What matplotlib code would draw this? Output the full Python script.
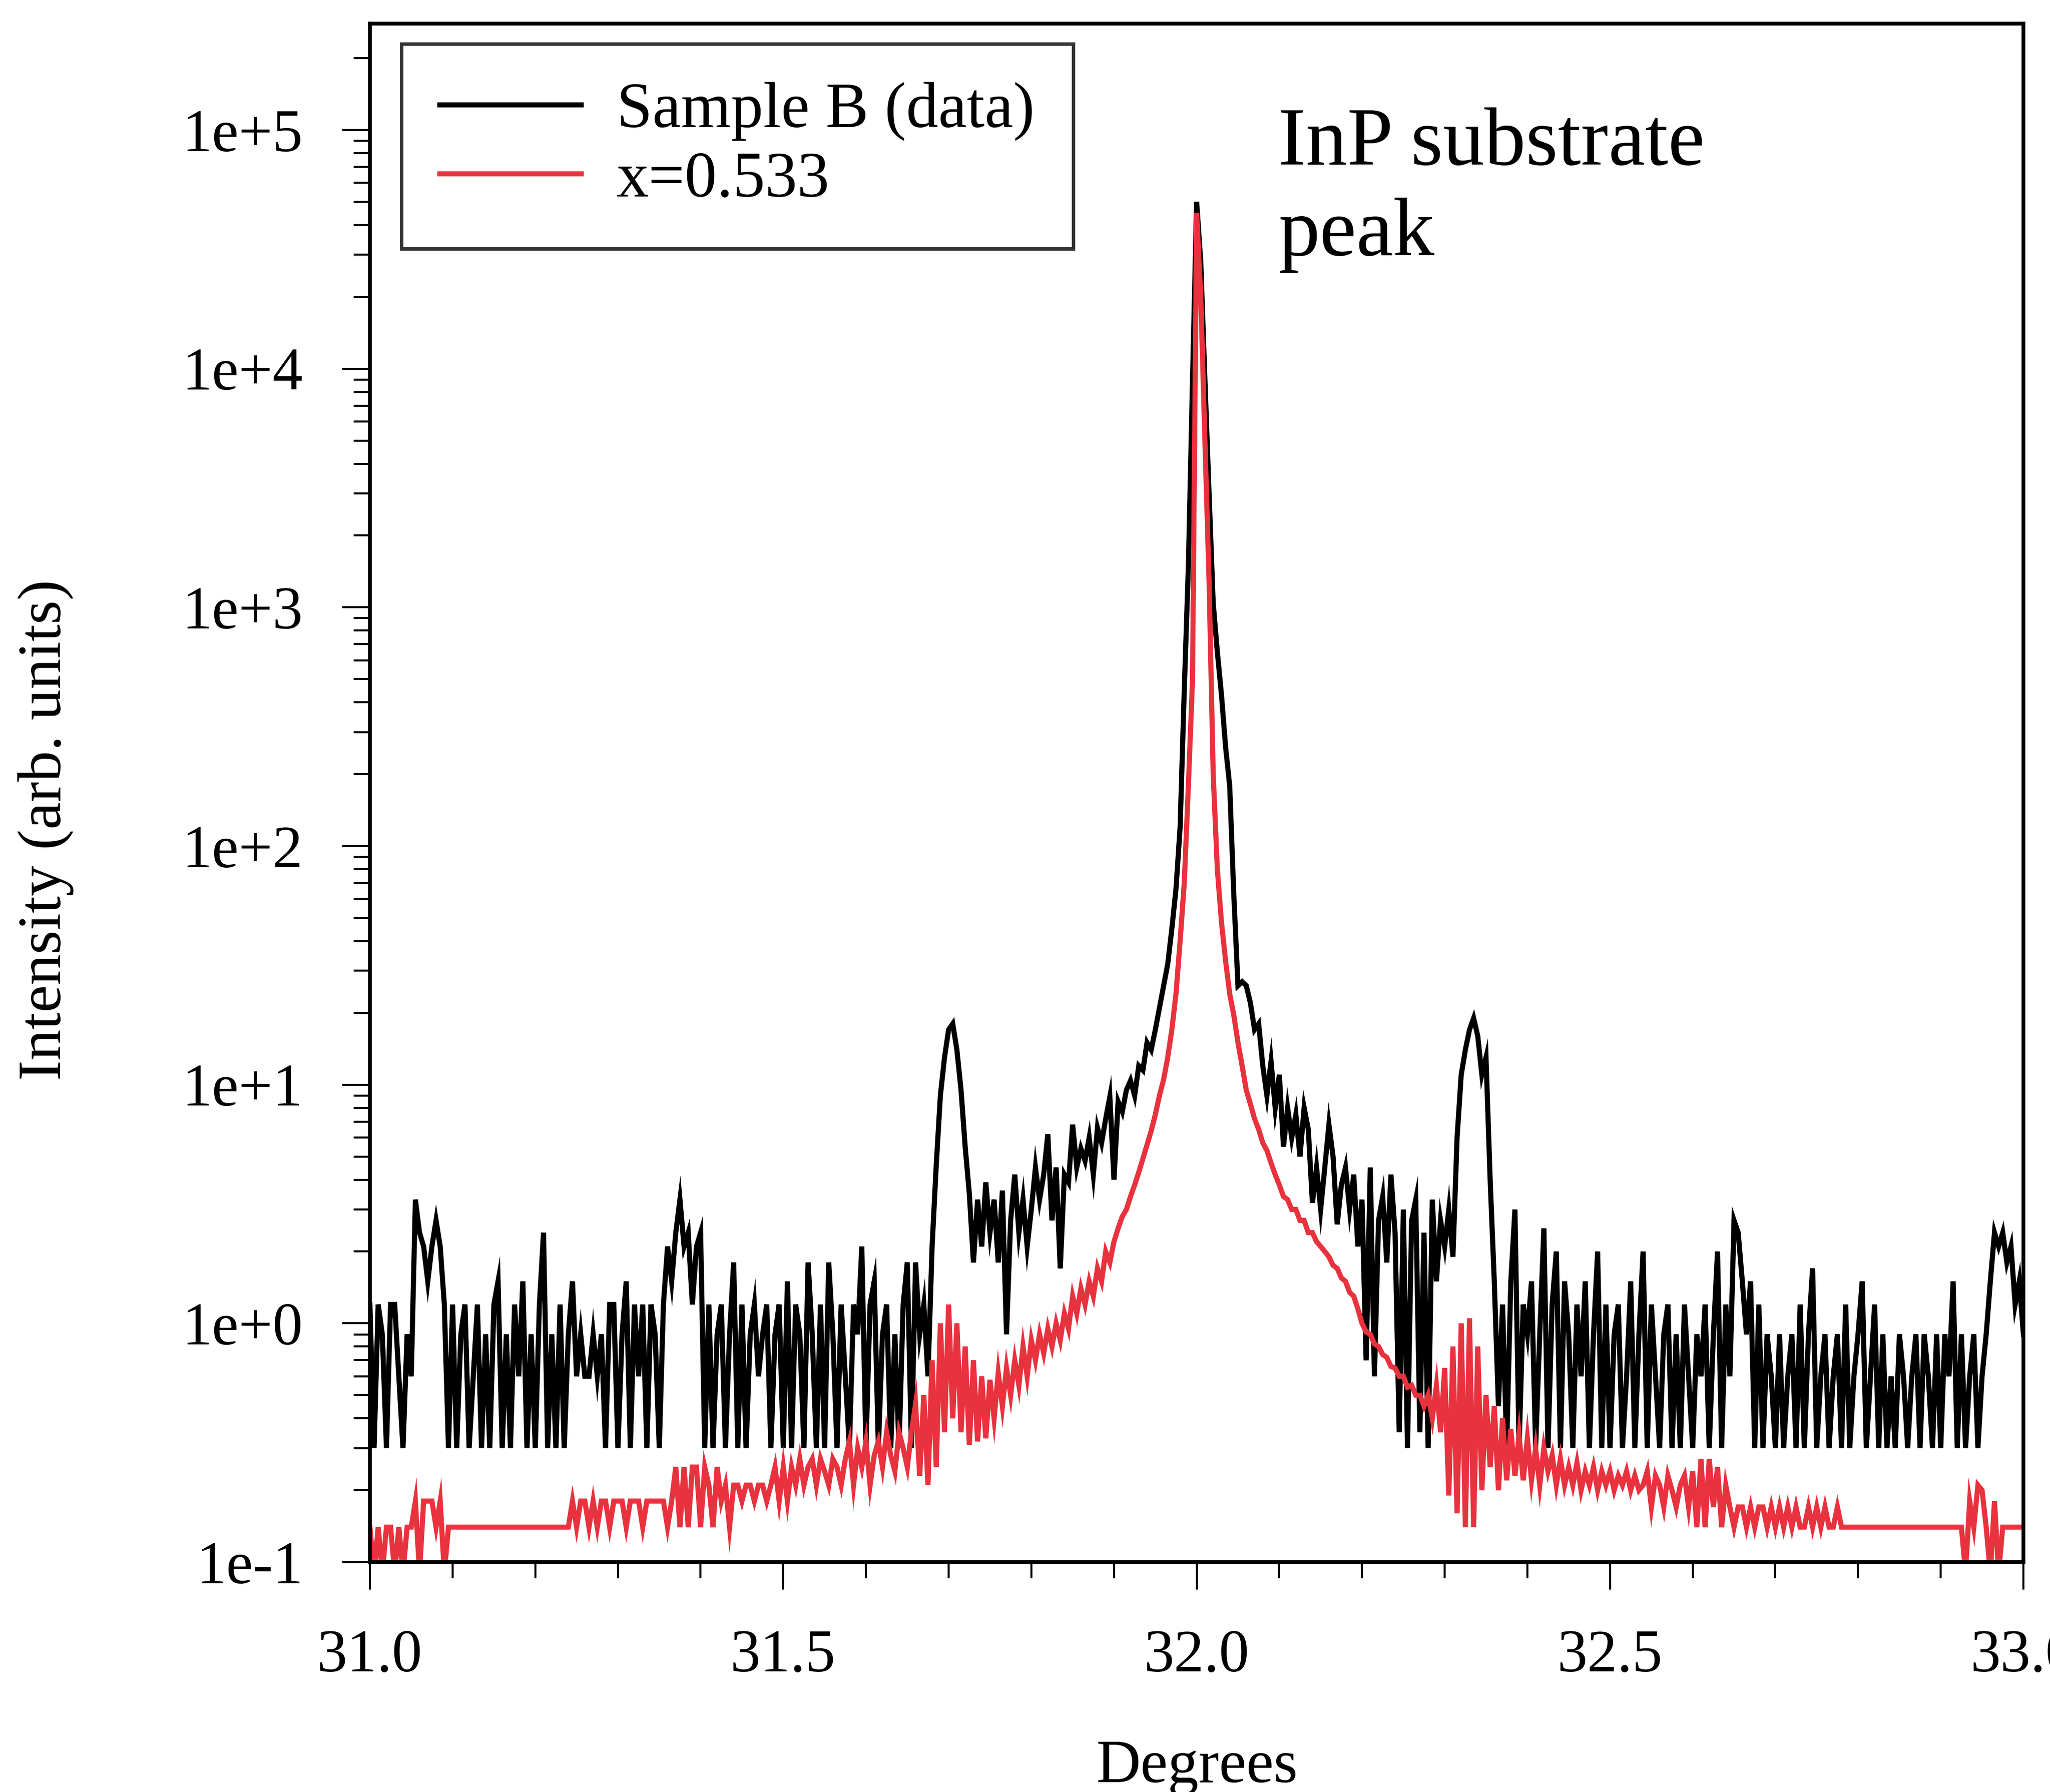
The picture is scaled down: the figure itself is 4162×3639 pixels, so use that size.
#!/usr/bin/env python3
"""
XRD rocking curve around the InP (004) substrate peak: measured Sample B vs. x=0.533 simulation.
Values were read off the scanned figure on a 0.005 deg grid.
"""

import numpy as np
import matplotlib

matplotlib.use("Agg")
import matplotlib.pyplot as plt
from matplotlib.ticker import FixedLocator, FuncFormatter, LogLocator, MultipleLocator, NullFormatter

plt.rcParams["font.family"] = ["Liberation Serif", "DejaVu Serif"]

# scan grid (degrees)
scan_start = 31.0
scan_step = 0.005

# Sample B (data), one row per 0.1 deg
sample_b = [
    1.2, 0.3, 1.2, 0.9, 0.3, 1.2, 1.2, 0.6, 0.3, 0.9, 0.6, 3.3, 2.4, 2.1, 1.5, 2.1, 2.7, 2.1, 1.2, 0.3,  # 31.0
    1.2, 0.3, 0.9, 1.2, 0.3, 0.6, 1.2, 0.3, 0.9, 0.3, 1.2, 1.5, 0.3, 0.9, 0.3, 1.2, 0.6, 1.5, 0.3, 0.9,  # 31.1
    0.3, 1.2, 2.4, 0.3, 0.9, 0.3, 1.2, 0.3, 0.9, 1.5, 0.6, 0.9, 0.6, 0.6, 0.9, 0.6, 0.9, 0.3, 1.2, 1.2,  # 31.2
    0.3, 0.9, 1.5, 0.3, 1.2, 0.6, 1.2, 0.3, 1.2, 0.9, 0.3, 1.2, 2.1, 1.5, 2.4, 3.3, 2.1, 2.4, 1.2, 2.1,  # 31.3
    2.4, 0.3, 1.2, 0.3, 0.9, 1.2, 0.3, 0.9, 1.8, 0.3, 1.2, 0.3, 0.9, 1.2, 0.6, 0.9, 1.2, 0.3, 0.9, 1.2,  # 31.4
    0.3, 1.5, 0.3, 1.2, 0.9, 0.3, 1.8, 0.9, 0.3, 1.2, 0.3, 1.8, 0.9, 0.3, 1.2, 0.6, 0.3, 1.2, 0.9, 2.1,  # 31.5
    0.3, 1.2, 1.5, 0.3, 0.9, 1.2, 0.3, 0.9, 0.3, 1.2, 1.8, 0.3, 1.8, 0.9, 1.2, 0.6, 2.1, 4.6, 9.0, 13.0,  # 31.6
    17.0, 18.0, 14.0, 9.5, 5.5, 3.5, 1.8, 3.3, 2.1, 3.9, 2.4, 3.3, 1.8, 3.6, 0.9, 2.7, 4.2, 2.4, 3.3, 2.1,  # 31.7
    3.0, 4.5, 3.3, 4.2, 6.2, 2.7, 4.5, 1.7, 4.2, 3.9, 6.8, 4.5, 5.4, 4.8, 6.0, 4.2, 6.6, 5.7, 7.2, 8.9,  # 31.8
    4.0, 8.5, 7.7, 9.5, 10.4, 9.0, 12.0, 11.5, 15.0, 14.0, 17.0, 21.0, 26.0, 32.0, 45.0, 66.0, 120.0,
    450.0, 1500.0, 9000.0,  # 31.9
    50000, 28000, 9000, 3000, 1040, 650, 430, 260, 178, 62, 26, 27, 26, 22, 17, 18, 12, 9, 12.5, 8,  # 32.0
    11.0, 5.5, 8.0, 6.0, 7.5, 5.0, 8.0, 6.5, 3.2, 4.5, 3.0, 4.5, 6.8, 5.0, 2.6, 3.8, 4.5, 3.0, 4.2, 2.1,  # 32.1
    3.3, 0.7, 4.5, 0.6, 2.7, 3.4, 1.8, 4.2, 2.4, 0.35, 3.0, 0.3, 2.7, 3.3, 0.35, 2.4, 0.3, 3.3, 1.5, 2.7,  # 32.2
    2.1, 3.0, 1.9, 6.0, 11.0, 14.0, 17.0, 19.0, 16.0, 11.0, 13.0, 4.0, 1.5, 0.45, 1.2, 0.3, 1.5, 3.0, 0.3, 1.2,  # 32.3
    0.9, 1.5, 0.3, 0.9, 2.5, 0.3, 1.2, 2.0, 0.3, 1.5, 0.9, 0.3, 1.2, 0.6, 1.5, 0.3, 0.9, 2.0, 0.3, 1.2,  # 32.4
    0.3, 0.9, 1.2, 0.3, 0.6, 1.5, 0.3, 0.9, 2.0, 0.3, 1.2, 0.6, 0.3, 0.9, 1.2, 0.3, 0.9, 0.3, 1.2, 0.6,  # 32.5
    0.3, 0.9, 0.6, 1.2, 0.3, 0.9, 2.0, 0.3, 1.2, 0.6, 2.7, 2.4, 1.5, 0.9, 1.5, 0.3, 1.2, 0.3, 0.9, 0.6,  # 32.6
    0.3, 0.9, 0.3, 0.6, 0.9, 0.3, 1.2, 0.3, 0.9, 1.7, 0.3, 0.6, 0.9, 0.3, 0.6, 0.9, 0.3, 1.2, 0.3, 0.6,  # 32.7
    0.9, 1.5, 0.3, 0.6, 1.2, 0.3, 0.9, 0.3, 0.6, 0.3, 0.9, 0.6, 0.3, 0.6, 0.9, 0.3, 0.9, 0.6, 0.3, 0.9,  # 32.8
    0.3, 0.9, 0.6, 1.5, 0.3, 0.9, 0.3, 0.6, 0.9, 0.3, 0.6, 0.9, 1.5, 2.4, 2.1, 2.4, 1.8, 2.1, 1.2, 1.5,  # 32.9
    0.9,  # 33.0
]

# simulation x=0.533, same grid
sim_x0533 = [
    0.14, 0.09, 0.14, 0.09, 0.14, 0.14, 0.09, 0.14, 0.09, 0.14, 0.14, 0.18, 0.09, 0.18, 0.18, 0.18, 0.14, 0.18, 0.09, 0.14,  # 31.0
    0.14, 0.14, 0.14, 0.14, 0.14, 0.14, 0.14, 0.14, 0.14, 0.14, 0.14, 0.14, 0.14, 0.14, 0.14, 0.14, 0.14, 0.14, 0.14, 0.14,  # 31.1
    0.14, 0.14, 0.14, 0.14, 0.14, 0.14, 0.14, 0.14, 0.14, 0.18, 0.14, 0.18, 0.18, 0.14, 0.18, 0.14, 0.18, 0.18, 0.14, 0.18,  # 31.2
    0.18, 0.18, 0.14, 0.18, 0.18, 0.18, 0.14, 0.18, 0.18, 0.18, 0.18, 0.18, 0.14, 0.18, 0.25, 0.14, 0.25, 0.14, 0.25, 0.25,  # 31.3
    0.14, 0.25, 0.21, 0.14, 0.25, 0.18, 0.21, 0.14, 0.21, 0.21, 0.18, 0.21, 0.21, 0.18, 0.21, 0.21, 0.18, 0.21, 0.25, 0.18,  # 31.4
    0.25, 0.18, 0.25, 0.21, 0.27, 0.21, 0.25, 0.27, 0.21, 0.27, 0.24, 0.21, 0.27, 0.25, 0.21, 0.27, 0.32, 0.21, 0.3, 0.25,  # 31.5
    0.32, 0.21, 0.28, 0.32, 0.25, 0.35, 0.28, 0.24, 0.35, 0.3, 0.25, 0.35, 0.46, 0.23, 0.5, 0.21, 0.7, 0.25, 1.0, 0.35,  # 31.6
    1.2, 0.4, 1.0, 0.35, 0.8, 0.31, 0.7, 0.32, 0.6, 0.33, 0.58, 0.4, 0.62, 0.45, 0.65, 0.5, 0.7, 0.55, 0.8, 0.6,  # 31.7
    0.85, 0.7, 0.9, 0.75, 0.95, 0.8, 1.0, 0.85, 1.1, 0.95, 1.3, 1.1, 1.4, 1.2, 1.5, 1.3, 1.7, 1.5, 2.0, 1.8,  # 31.8
    2.2, 2.5, 2.8, 3.0, 3.4, 3.8, 4.3, 4.9, 5.6, 6.4, 7.5, 9.0, 10.5, 13.0, 17.0, 24.0, 40.0, 70.0, 180.0, 500.0,  # 31.9
    45000, 20000, 5000, 1300, 200, 80, 48, 33, 24, 19.5, 15, 12, 9.5, 8.3, 7.2, 6.5, 5.7, 5.3, 4.7, 4.2,  # 32.0
    3.8, 3.4, 3.3, 3.0, 3.0, 2.7, 2.7, 2.4, 2.4, 2.2, 2.1, 2.0, 1.9, 1.75, 1.7, 1.55, 1.5, 1.35, 1.3, 1.15,  # 32.1
    1.0, 0.92, 0.9, 0.82, 0.8, 0.74, 0.72, 0.66, 0.65, 0.6, 0.6, 0.54, 0.55, 0.5, 0.5, 0.45, 0.5, 0.4, 0.55, 0.35,  # 32.2
    0.65, 0.19, 0.8, 0.16, 1.0, 0.14, 1.05, 0.14, 0.8, 0.2, 0.5, 0.25, 0.45, 0.2, 0.4, 0.22, 0.36, 0.23, 0.34, 0.22,  # 32.3
    0.33, 0.22, 0.3, 0.21, 0.3, 0.24, 0.28, 0.21, 0.27, 0.21, 0.25, 0.21, 0.26, 0.2, 0.24, 0.21, 0.25, 0.2, 0.24, 0.21,  # 32.4
    0.24, 0.2, 0.23, 0.21, 0.24, 0.2, 0.23, 0.2, 0.21, 0.24, 0.17, 0.23, 0.21, 0.17, 0.23, 0.2, 0.17, 0.21, 0.23, 0.17,  # 32.5
    0.24, 0.14, 0.27, 0.14, 0.27, 0.17, 0.25, 0.14, 0.21, 0.17, 0.14, 0.17, 0.17, 0.14, 0.17, 0.14, 0.17, 0.17, 0.14, 0.17,  # 32.6
    0.14, 0.17, 0.14, 0.17, 0.14, 0.17, 0.14, 0.14, 0.17, 0.14, 0.17, 0.14, 0.17, 0.14, 0.14, 0.17, 0.14, 0.14, 0.14, 0.14,  # 32.7
    0.14, 0.14, 0.14, 0.14, 0.14, 0.14, 0.14, 0.14, 0.14, 0.14, 0.14, 0.14, 0.14, 0.14, 0.14, 0.14, 0.14, 0.14, 0.14, 0.14,  # 32.8
    0.14, 0.14, 0.14, 0.14, 0.14, 0.14, 0.09, 0.18, 0.14, 0.21, 0.2, 0.14, 0.09, 0.18, 0.09, 0.14, 0.14, 0.14, 0.14, 0.14,  # 32.9
    0.14,  # 33.0
]

x_ticks = [31.0, 31.5, 32.0, 32.5, 33.0]
y_ticks = [1e-1, 1e0, 1e1, 1e2, 1e3, 1e4, 1e5]
series_labels = ["Sample B (data)", "x=0.533"]
series_colors = ["black", "#e8323e"]
annotation = ["InP substrate", "peak"]

W, H = 4162, 3639
DPI = 100


def decade_label(v, _pos):
    return f"1e{int(round(np.log10(v))):+d}"


def main() -> None:
    fig = plt.figure(figsize=(W / DPI, H / DPI), dpi=DPI)
    fig.patch.set_facecolor("white")
    ax = fig.add_axes([751 / W, 1 - 3172 / H, (4108 - 751) / W, (3172 - 48) / H])

    for ys, lab, col in zip([sample_b, sim_x0533], series_labels, series_colors):
        xs = scan_start + scan_step * np.arange(len(ys))
        ax.plot(xs, ys, color=col, lw=7.5, label=lab, solid_joinstyle="miter")

    ax.set_yscale("log")
    ax.set_xlim(31.0, 33.0)
    ax.set_ylim(0.1, 10 ** 5.4456)

    ax.xaxis.set_major_locator(FixedLocator(x_ticks))
    ax.xaxis.set_minor_locator(MultipleLocator(0.1))
    ax.xaxis.set_major_formatter(FuncFormatter(lambda v, p: f"{v:.1f}"))
    ax.yaxis.set_major_locator(FixedLocator(y_ticks))
    ax.yaxis.set_minor_locator(LogLocator(base=10, subs=np.arange(2, 10)))
    ax.yaxis.set_major_formatter(FuncFormatter(decade_label))
    ax.yaxis.set_minor_formatter(NullFormatter())

    ax.tick_params(which="both", direction="out", top=False, right=False, width=3,
                   labelsize=88, pad=58, colors="black")
    ax.tick_params(which="major", length=40)
    ax.tick_params(which="minor", length=24)
    for sp in ax.spines.values():
        sp.set_linewidth(5.5)

    fig.text(2430 / W, 1 - 3589 / H, "Degrees", fontsize=90, ha="center", va="center")
    fig.text(93 / W, 1 - 1685 / H, "Intensity (arb. units)", fontsize=90,
             rotation=90, ha="center", va="center")

    fig.text(2595 / W, 1 - 334 / H, annotation[0], fontsize=121, ha="left", va="baseline")
    fig.text(2595 / W, 1 - 518 / H, annotation[1], fontsize=121, ha="left", va="baseline")

    leg = ax.legend(loc="upper left", bbox_to_anchor=(0.019, 0.987), borderaxespad=0,
                    fontsize=94, frameon=True, fancybox=False, handlelength=2.2,
                    handletextpad=0.55, borderpad=0.6, labelspacing=0.16)
    leg.get_frame().set_edgecolor("black")
    leg.get_frame().set_linewidth(5)

    fig.savefig("out.png", dpi=DPI)


if __name__ == "__main__":
    main()
